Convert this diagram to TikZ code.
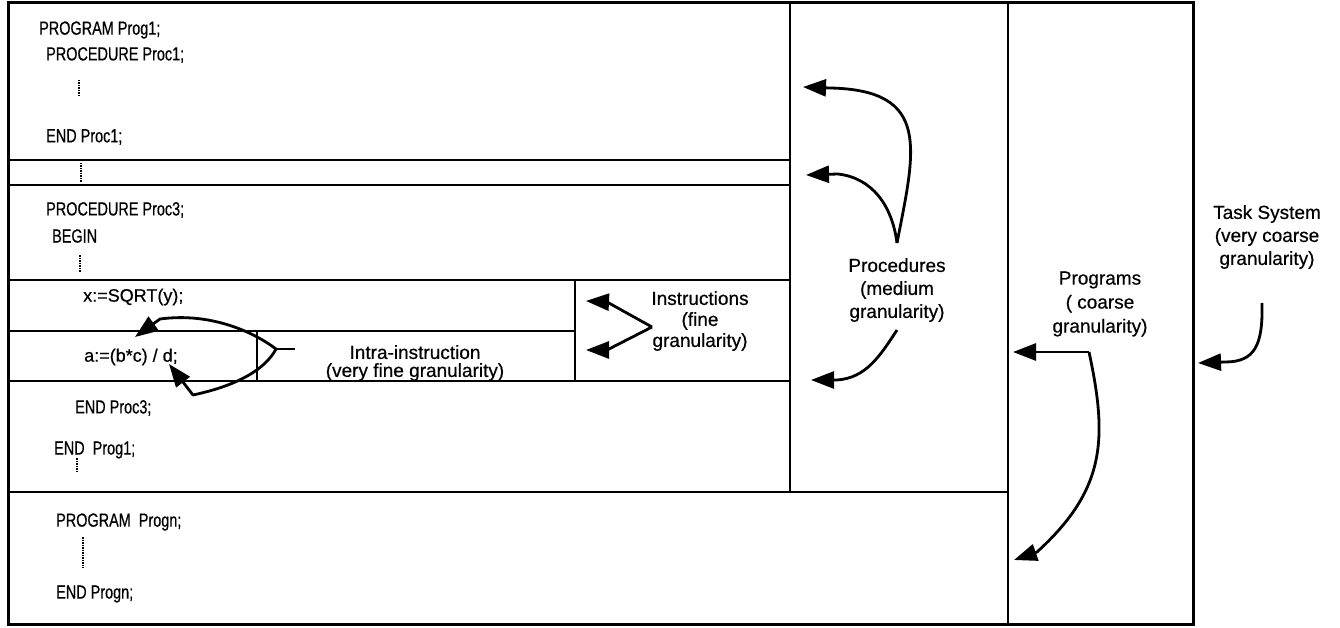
\documentclass[tikz,border=0pt]{standalone}
\usepackage{fontspec}
\setmainfont{Liberation Sans}[FakeBold=0.5]
\newfontfamily\keywordfont{Liberation Sans}[FakeStretch=0.76,FakeBold=0.5]
\usetikzlibrary{arrows.meta}
\begin{document}
\begin{tikzpicture}[x=1pt,y=-1pt,
  frame/.style={line width=3pt},
  rule/.style={line width=2.4pt},
  code/.style={anchor=west, inner sep=0pt, font={\keywordfont\fontsize{19}{22}\selectfont}},
  stmt/.style={anchor=west, inner sep=0pt, font=\fontsize{18}{22}\selectfont},
  lbl/.style={align=center, inner sep=0pt, font=\fontsize{19}{23}\selectfont},
  pointer/.style={line width=2.8pt, line join=round,
    -{Triangle[length=23pt,width=17pt]}},
  ellipsis/.style={densely dotted, line width=1.5pt}
]
\useasboundingbox (0,0) rectangle (1340,628);

% frame and partitions
\draw[frame] (8,3) rectangle (1193,624);
\draw[rule] (1008,3) -- (1008,624);
\draw[rule] (790,3) -- (790,492);
\draw[rule] (8,492) -- (1008,492);
\draw[rule] (8,160) -- (790,160);
\draw[rule] (8,185) -- (790,185);
\draw[rule] (8,280) -- (790,280);
\draw[rule] (8,331) -- (575,331);
\draw[rule] (8,381) -- (790,381);
\draw[rule] (575,280) -- (575,381);
\draw[rule] (257,331) -- (257,381);

% program text
\node[code] (prog1)  at (39,30)  {PROGRAM Prog1;};
\node[code] (proc1)  at (46,55)  {PROCEDURE Proc1;};
\node[code] (end1)   at (46,137) {END Proc1;};
\node[code] (proc3)  at (46,210) {PROCEDURE Proc3;};
\node[code] (begin3) at (52,236) {BEGIN};
\node[stmt] (instx)  at (83,297) {x:=SQRT(y);};
\node[stmt] (insta)  at (84,357) {a:=(b*c) / d;};
\node[code] (end3)   at (75,408) {END Proc3;};
\node[code] (endp1)  at (54,450) {END\ \ Prog1;};
\node[code] (progn)  at (56,522) {PROGRAM\ \ Progn;};
\node[code] (endpn)  at (56,594) {END Progn;};

% omitted lines
\draw[ellipsis] (79,80) -- (79,96);
\draw[ellipsis] (81,163) -- (81,183);
\draw[ellipsis] (80,255) -- (80,272);
\draw[ellipsis] (77,458) -- (77,472);
\draw[ellipsis] (83,537) -- (83,568);

% granularity labels
\node[lbl, font=\fontsize{19}{18}\selectfont] (intra) at (415,363)
  {Intra-instruction\\(very fine granularity)};
\node[lbl, font=\fontsize{19}{21}\selectfont] (instr) at (700,321)
  {Instructions\\(fine\\granularity)};
\node[lbl] (procs) at (897,290) {Procedures\\(medium\\granularity)};
\node[lbl, font=\fontsize{19}{24}\selectfont] (progs) at (1100,304)
  {Programs\\( coarse\\granularity)};
\node[lbl] (task) at (1267,237) {Task System\\(very coarse\\granularity)};

% arrow anchors
\coordinate (intraStub) at (295,349);
\coordinate (intraFork) at (276,349);
\coordinate (intraT1) at (135,337);
\coordinate (intraT2) at (169,364);
\coordinate (insFork) at (652,327);
\coordinate (insT1) at (586,301);
\coordinate (insT2) at (586,350);
\coordinate (procFork) at (897,243);
\coordinate (procSrc) at (897,330);
\coordinate (procT1) at (803,87);
\coordinate (procT2) at (806,175);
\coordinate (procT3) at (811,380);
\coordinate (progCorner) at (1089,352);
\coordinate (progT1) at (1013,352);
\coordinate (progT2) at (1014,560);
\coordinate (taskSrc) at (1262,303);
\coordinate (taskT) at (1198,363);

% intra-instruction arrows
\draw[line width=2.8pt] (intraStub) -- (intraFork);
\draw[pointer] (intraFork) .. controls (255,333) and (212,312) .. (160,319) -- (intraT1);
\draw[pointer] (intraFork) .. controls (266,368) and (240,385) .. (193,395) -- (intraT2);

% instruction arrows
\draw[pointer] (insFork) -- (607,302) -- (insT1);
\draw[pointer] (insFork) -- (607,350) -- (insT2);

% procedure arrows
\draw[pointer] (procFork) .. controls (915,150) and (932,90) .. (830,88) -- (procT1);
\draw[pointer] (procFork) .. controls (892,205) and (872,178) .. (838,174) -- (procT2);
\draw[pointer] (procSrc) .. controls (880,356) and (866,378) .. (837,380) -- (procT3);

% program arrows
\draw[pointer] (progCorner) -- (progT1);
\draw[pointer] (progCorner) .. controls (1108,440) and (1105,490) .. (1037,552) -- (progT2);

% task system arrow
\draw[pointer] (taskSrc) .. controls (1263,345) and (1255,362) .. (1225,362) -- (taskT);
\end{tikzpicture}
\end{document}
